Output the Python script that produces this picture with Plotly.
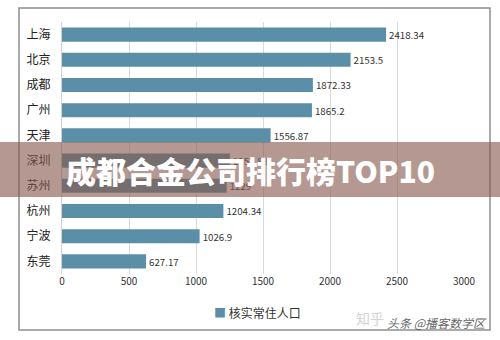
import plotly.graph_objects as go

# City ranking values (核实常住人口)
cities = ["上海", "北京", "成都", "广州", "天津", "深圳", "苏州", "杭州", "宁波", "东莞"]
values = [2418.34, 2153.5, 1872.33, 1865.2, 1556.87, 1252.83, 1229, 1204.34, 1026.9, 627.17]
value_labels = ["2418.34", "2153.5", "1872.33", "1865.2", "1556.87", "1252.83", "1229", "1204.34", "1026.9", "627.17"]
x_ticks = [0, 500, 1000, 1500, 2000, 2500, 3000]
series_name = "核实常住人口"
banner_text = "成都合金公司排行榜TOP10"

BAR_COLOR = "#5b8fa7"
W, H = 500, 340
L, R, T, B = 62, 36, 22, 66
PW, PH = W - L - R, H - T - B


def px_x(x):
    return (x - L) / PW


def px_y(y):
    return (H - B - y) / PH


fig = go.Figure()
fig.add_trace(go.Bar(
    y=cities,
    x=values,
    orientation="h",
    name=series_name,
    marker=dict(color=BAR_COLOR, line=dict(width=0)),
    width=0.56,
    text=value_labels,
    textposition="outside",
    textfont=dict(size=11, color="#333333", family="Noto Sans CJK SC"),
    cliponaxis=False,
    showlegend=False,
))

shapes = [
    # outer chart frame
    dict(type="rect", xref="paper", yref="paper",
         x0=px_x(19), x1=px_x(490), y0=px_y(330), y1=px_y(8),
         line=dict(color="#8f8f8f", width=1.5), fillcolor="rgba(0,0,0,0)", layer="below"),
    # banner band across the chart
    dict(type="rect", xref="paper", yref="paper",
         x0=px_x(0), x1=px_x(500), y0=px_y(197), y1=px_y(142),
         line=dict(width=0), fillcolor="rgba(136,88,78,0.62)", layer="above"),
]

annotations = [
    dict(text=banner_text, xref="paper", yref="paper",
         x=px_x(250), y=px_y(170), xanchor="center", yanchor="middle",
         showarrow=False,
         font=dict(size=30, color="white", family="Noto Sans CJK SC", weight=900)),
    # series key under the axis
    dict(text=f"<span style='color:{BAR_COLOR}'>■</span> {series_name}",
         xref="paper", yref="paper",
         x=px_x(212), y=px_y(312), xanchor="left", yanchor="middle",
         showarrow=False, font=dict(size=12, color="#333333", family="Noto Sans CJK SC")),
    # source marks
    dict(text="知乎", xref="paper", yref="paper",
         x=px_x(354), y=px_y(318), xanchor="left", yanchor="middle",
         showarrow=False, font=dict(size=14, color="rgba(205,205,205,0.9)", family="Noto Sans CJK SC")),
    dict(text="<i>头条 @播客数学区</i>", xref="paper", yref="paper",
         x=px_x(489), y=px_y(322), xanchor="right", yanchor="middle",
         showarrow=False, font=dict(size=12, color="rgba(70,70,70,0.85)", family="Noto Sans CJK SC")),
]

fig.update_layout(
    width=W, height=H,
    margin=dict(l=L, r=R, t=T, b=B, pad=0),
    paper_bgcolor="white",
    plot_bgcolor="white",
    showlegend=False,
    font=dict(family="Noto Sans CJK SC", color="#222222"),
    xaxis=dict(
        range=[0, 3000],
        tickvals=x_ticks,
        ticktext=[str(v) for v in x_ticks],
        showgrid=True, gridcolor="#d9d9d9", gridwidth=1,
        zeroline=False, showline=False,
        ticks="", tickfont=dict(size=10, color="#333333"),
    ),
    yaxis=dict(
        autorange="reversed",
        showgrid=False, zeroline=False,
        showline=True, linecolor="#d0d0d0", linewidth=1,
        ticks="", ticklabelstandoff=8,
        tickfont=dict(size=12, color="#222222"),
    ),
    shapes=shapes,
    annotations=annotations,
)

fig.write_html("out.html")
